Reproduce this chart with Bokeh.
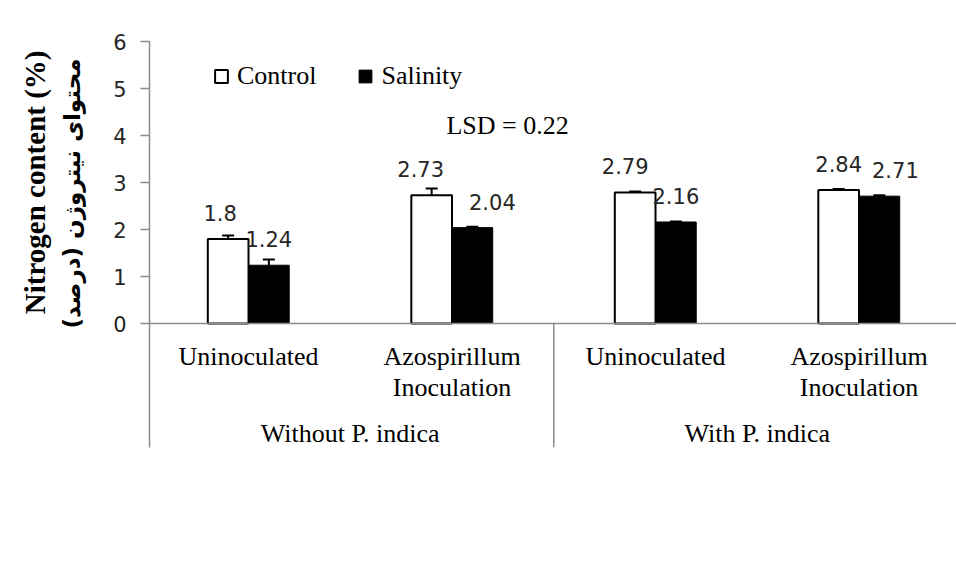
import numpy as np
from bokeh.plotting import figure
from bokeh.models import (Range1d, FixedTicker, ColumnDataSource, Label, Span,
                          Whisker, TeeHead, Legend, LegendItem, LinearAxis, Title)
from bokeh.core.properties import value
from bokeh.embed import file_html
from bokeh.resources import INLINE

# ---------------- data ----------------
groups = ["Without P. indica", "With P. indica"]
inoculation = ["Uninoculated", "Azospirillum\nInoculation",
               "Uninoculated", "Azospirillum\nInoculation"]
series = ["Control", "Salinity"]
control = [1.80, 2.73, 2.79, 2.84]
salinity = [1.24, 2.04, 2.16, 2.71]
control_err = [0.07, 0.145, 0.02, 0.02]
salinity_err = [0.12, 0.02, 0.01, 0.02]
y_ticks = [0, 1, 2, 3, 4, 5, 6]
lsd_text = "LSD = 0.22"
y_title_en = "Nitrogen content (%)"
y_title_fa = "محتوای نیتروژن  (درصد)"

# label nudges (pixels), styling only
label_dx_control = [-8, -11, -10, 0]
label_dx_salinity = [0, 20, 0, 16]

# ---------------- styling ----------------
AXIS_GRAY = "#8c8c8c"
SERIF = "Liberation Serif"
SANS = "DejaVu Sans"
BAR_W = 0.2

idx = np.arange(len(control))
n_sub = len(inoculation) // len(groups)

src = ColumnDataSource(dict(
    x_c=idx - BAR_W / 2, x_s=idx + BAR_W / 2,
    control=control, salinity=salinity,
    c_up=np.array(control) + np.array(control_err),
    c_lo=np.array(control) - np.array(control_err),
    s_up=np.array(salinity) + np.array(salinity_err),
    s_lo=np.array(salinity) - np.array(salinity_err),
    c_txt=[f"{v:g}" for v in control], s_txt=[f"{v:g}" for v in salinity],
    dx_c=label_dx_control, dx_s=label_dx_salinity,
))

y_bottom = -2.638
p = figure(width=956, height=582, output_backend="svg", toolbar_location=None,
           x_range=Range1d(-0.4865, 3.479), y_range=Range1d(y_bottom, 6),
           x_axis_location=None, min_border_left=149, min_border_right=0,
           min_border_top=41, min_border_bottom=135)
p.outline_line_color = None
p.xgrid.visible = False
p.ygrid.visible = False
p.background_fill_color = "white"
p.border_fill_color = "white"

yax = p.yaxis[0]
yax.ticker = FixedTicker(ticks=y_ticks)
yax.axis_line_color = AXIS_GRAY
yax.axis_line_width = 1.5
yax.major_tick_line_color = AXIS_GRAY
yax.major_tick_line_width = 1.5
yax.major_tick_out = 9
yax.major_tick_in = 0
yax.minor_tick_line_color = None
yax.major_label_text_font = SANS
yax.major_label_text_font_size = "21px"
yax.major_label_text_color = "#262626"
yax.major_label_standoff = 14


def spacer(width):
    # invisible axis (white tick in white margin, empty label) that only reserves room
    t = y_bottom
    ax = LinearAxis(ticker=FixedTicker(ticks=[t]), axis_line_color=None,
                    major_tick_line_color="white", minor_tick_line_color=None,
                    major_tick_out=width, major_tick_in=0, major_label_standoff=0,
                    major_label_overrides={t: ""}, major_label_text_font_size="1px")
    p.add_layout(ax, "left")


def side_title(text, font, size):
    p.add_layout(Title(text=text, align="right", offset=9, standoff=0,
                       vertical_align="bottom", text_font=font, text_font_size=size,
                       text_font_style="bold", text_color="black"), "left")


# y-axis titles (Persian nearer the axis, English outside)
spacer(26)
side_title(y_title_fa, SANS, "23px")
spacer(6)
side_title(y_title_en, SERIF, "29px")

# x axis base line and group divider
p.add_layout(Span(location=0, dimension="width", line_color=AXIS_GRAY, line_width=1.5))
div_x = [g * n_sub - 0.5 for g in range(1, len(groups))]
p.segment(x0=div_x, y0=[0] * len(div_x), x1=div_x, y1=[y_bottom] * len(div_x),
          line_color=AXIS_GRAY, line_width=1.5)

# bars
rc = p.vbar(x="x_c", top="control", bottom=0, width=BAR_W, source=src,
            fill_color="white", line_color="black", line_width=2)
rs = p.vbar(x="x_s", top="salinity", bottom=0, width=BAR_W, source=src,
            fill_color="black", line_color="black", line_width=1)

# error bars
for base, up, lo in (("x_c", "c_up", "c_lo"), ("x_s", "s_up", "s_lo")):
    w = Whisker(source=src, base=base, upper=up, lower=lo, line_color="black", line_width=2,
                upper_head=TeeHead(size=12, line_width=2, line_color="black"),
                lower_head=TeeHead(size=12, line_width=2, line_color="black"))
    p.add_layout(w)

# data labels
for xcol, ycol, tcol, dxcol in (("x_c", "control", "c_txt", "dx_c"),
                                ("x_s", "salinity", "s_txt", "dx_s")):
    p.text(x=xcol, y=ycol, text=tcol, source=src, x_offset=dxcol, y_offset=-26,
           text_align="center", text_baseline="middle",
           text_font=value(SANS), text_font_size="21px", text_color="#262626")

# category labels
line1 = [s.split("\n")[0] for s in inoculation]
line2_x = [i for i, s in enumerate(inoculation) if "\n" in s]
line2 = [inoculation[i].split("\n")[1] for i in line2_x]
p.text(x=list(idx), y=[-0.702] * len(idx), text=line1, text_align="center",
       text_baseline="middle", text_font=value(SERIF), text_font_size="26px",
       text_color="black")
p.text(x=line2_x, y=[-1.362] * len(line2_x), text=line2, text_align="center",
       text_baseline="middle", text_font=value(SERIF), text_font_size="26px",
       text_color="black")
group_x = [g * n_sub + (n_sub - 1) / 2 for g in range(len(groups))]
p.text(x=group_x, y=[-2.34] * len(groups), text=groups, text_align="center",
       text_baseline="middle", text_font=value(SERIF), text_font_size="26px",
       text_color="black")

# legend
legend = Legend(items=[LegendItem(label=series[0], renderers=[rc]),
                       LegendItem(label=series[1], renderers=[rs])],
                orientation="horizontal", location=(64, 356),
                glyph_width=16, glyph_height=16, label_standoff=8, spacing=41,
                padding=0, margin=0, border_line_color=None,
                background_fill_alpha=0, label_text_font=SERIF,
                label_text_font_size="26px", label_text_color="black")
p.add_layout(legend)

# LSD annotation
p.add_layout(Label(x=1.273, y=4.21, text=lsd_text, text_align="center",
                   text_baseline="middle", text_font=SERIF, text_font_size="26px",
                   text_color="black"))

open("out.html", "w").write(file_html(p, INLINE))
